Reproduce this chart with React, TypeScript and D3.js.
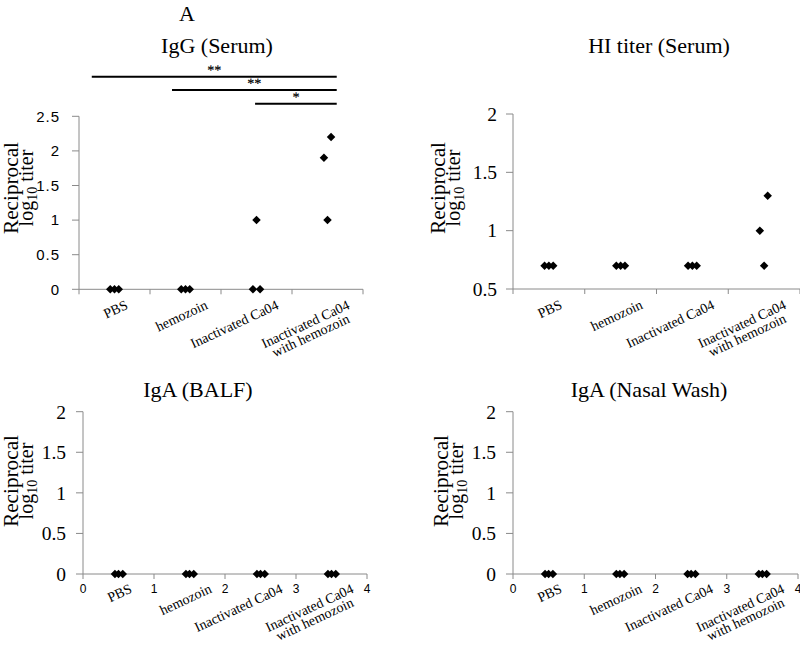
import React, { useMemo } from "react";
import * as d3 from "d3";

// ---------- data ----------
const CATEGORIES: string[][] = [
  ["PBS"],
  ["hemozoin"],
  ["Inactivated Ca04"],
  ["Inactivated Ca04", "with hemozoin"],
];
const X_NUM_TICKS = [0, 1, 2, 3, 4];

// IgG (Serum)
const IGG_X = [0.44, 0.5, 0.56, 1.44, 1.5, 1.56, 2.45, 2.5, 2.55, 3.45, 3.5, 3.55];
const IGG_Y = [0, 0, 0, 0, 0, 0, 0, 1.0, 0, 1.9, 1.0, 2.2];
const IGG_TICKS = [0, 0.5, 1, 1.5, 2, 2.5];

// HI titer (Serum)
const HI_X = [0.44, 0.5, 0.56, 1.44, 1.5, 1.56, 2.44, 2.5, 2.56, 3.44, 3.5, 3.55];
const HI_Y = [0.7, 0.7, 0.7, 0.7, 0.7, 0.7, 0.7, 0.7, 0.7, 1.0, 0.7, 1.3];
const HI_TICKS = [0.5, 1, 1.5, 2];

// IgA (BALF)
const BALF_X = [0.45, 0.5, 0.56, 1.45, 1.5, 1.56, 2.45, 2.5, 2.56, 3.45, 3.5, 3.56];
const BALF_Y = [0, 0, 0, 0, 0, 0, 0, 0, 0, 0, 0, 0];

// IgA (Nasal Wash)
const NASAL_X = [0.45, 0.5, 0.56, 1.45, 1.5, 1.56, 2.45, 2.5, 2.56, 3.45, 3.5, 3.56];
const NASAL_Y = [0, 0, 0, 0, 0, 0, 0, 0, 0, 0, 0, 0];
const IGA_TICKS = [0, 0.5, 1, 1.5, 2];

// significance brackets (IgG panel)
const SIG_START = [0.18, 1.31, 2.48];
const SIG_END = [3.63, 3.63, 3.63];
const SIG_LEVEL = [3.07, 2.88, 2.68];
const SIG_LABEL = ["**", "**", "*"];

// ---------- styles ----------
const SERIF = "'Liberation Serif', 'Times New Roman', serif";
const SANS = "'Liberation Sans', Arial, sans-serif";
const AXIS = "#8a8a8a";
const ANGLE = 25;
const CAT_FS = 14;

type Panel = {
  title: string;
  titleX: number;
  titleY: number;
  x0: number;
  x1: number;
  yDom: [number, number];
  yR: [number, number];
  ticks: number[];
  tickSans: boolean;
  tickGap: number;
  xs: number[];
  ys: number[];
  numeric: boolean;
  labelX: [number, number];
  labelCY: number;
  catDy: number;
};

const PANELS: Panel[] = [
  { title: "IgG (Serum)", titleX: 217, titleY: 53, x0: 79, x1: 363, yDom: [0, 2.5], yR: [289.3, 116.3], ticks: IGG_TICKS, tickSans: true, tickGap: 19, xs: IGG_X, ys: IGG_Y, numeric: false, labelX: [18, 33], labelCY: 188, catDy: 19 },
  { title: "HI titer (Serum)", titleX: 659, titleY: 53, x0: 513, x1: 800, yDom: [0.5, 2], yR: [289, 114], ticks: HI_TICKS, tickSans: false, tickGap: 16, xs: HI_X, ys: HI_Y, numeric: false, labelX: [445, 460], labelCY: 188, catDy: 19 },
  { title: "IgA (BALF)", titleX: 198, titleY: 397, x0: 83, x1: 367, yDom: [0, 2], yR: [574, 411.7], ticks: IGA_TICKS, tickSans: false, tickGap: 17, xs: BALF_X, ys: BALF_Y, numeric: true, labelX: [18, 33], labelCY: 481, catDy: 18 },
  { title: "IgA (Nasal Wash)", titleX: 649, titleY: 397, x0: 513, x1: 798, yDom: [0, 2], yR: [574, 411.7], ticks: IGA_TICKS, tickSans: false, tickGap: 17, xs: NASAL_X, ys: NASAL_Y, numeric: true, labelX: [448, 463], labelCY: 481, catDy: 18 },
];

function useMeasure() {
  return useMemo(() => {
    const c = typeof document !== "undefined" ? document.createElement("canvas") : null;
    const ctx = c ? c.getContext("2d") : null;
    return (s: string, font: string) => {
      if (!ctx) return s.length * 6;
      ctx.font = font;
      return ctx.measureText(s).width;
    };
  }, []);
}

const diamond = d3.symbol().type(d3.symbolSquare).size(36)() as string;

function PanelView({ p, measure }: { p: Panel; measure: (s: string, f: string) => number }) {
  const x = d3.scaleLinear().domain([0, 4]).range([p.x0, p.x1]);
  const y = d3.scaleLinear().domain(p.yDom).range(p.yR);
  const axisY = y(p.yDom[0]);
  const rad = (ANGLE * Math.PI) / 180;
  const cos = Math.cos(rad);
  const sin = Math.sin(rad);
  return (
    <g>
      <text x={p.titleX} y={p.titleY} textAnchor="middle" fontFamily={SERIF} fontSize={22} fill="#000">
        {p.title}
      </text>
      {/* y axis */}
      <line x1={p.x0} x2={p.x0} y1={y(p.yDom[1])} y2={axisY} stroke={AXIS} strokeWidth={1} />
      {p.ticks.map((t) => (
        <g key={"yt" + t}>
          <line x1={p.x0 - 7} x2={p.x0} y1={y(t)} y2={y(t)} stroke={AXIS} strokeWidth={1} />
          <text
            x={p.x0 - p.tickGap}
            y={y(t)}
            dy="0.35em"
            textAnchor="end"
            fontFamily={p.tickSans ? SANS : SERIF}
            fontSize={p.tickSans ? 15 : 19.5}
            letterSpacing={p.tickSans ? 1 : 0}
            fill="#000"
          >
            {t}
          </text>
        </g>
      ))}
      {/* x axis */}
      <line x1={p.x0} x2={p.x1} y1={axisY} y2={axisY} stroke={AXIS} strokeWidth={1} />
      {X_NUM_TICKS.map((t) => (
        <g key={"xt" + t}>
          <line x1={x(t)} x2={x(t)} y1={axisY} y2={axisY + 5} stroke={AXIS} strokeWidth={1} />
          {p.numeric && (
            <text x={x(t)} y={axisY + 19} textAnchor="middle" fontFamily={SANS} fontSize={12} fill="#000">
              {t}
            </text>
          )}
        </g>
      ))}
      {/* category labels */}
      {CATEGORIES.map((lines, i) => {
        const cx = x(i + 0.5);
        const L = measure(lines[0], `${CAT_FS}px ${SERIF}`);
        const w = L * cos + CAT_FS * sin;
        const endX = cx + Math.min(w / 2, 23);
        const endY = axisY + p.catDy;
        const mx = endX - (L / 2) * cos;
        const my = endY + (L / 2) * sin;
        return (
          <g key={"cat" + i} transform={`translate(${mx},${my}) rotate(${-ANGLE})`}>
            {lines.map((ln, j) => (
              <text key={j} x={0} y={j * 12.5} textAnchor="middle" fontFamily={SERIF} fontSize={CAT_FS} fill="#000">
                {ln}
              </text>
            ))}
          </g>
        );
      })}
      {/* y axis title */}
      <g transform={`translate(${p.labelX[0]},${p.labelCY}) rotate(-90)`}>
        <text x={0} y={0} textAnchor="middle" fontFamily={SERIF} fontSize={20} textLength={92} lengthAdjust="spacingAndGlyphs" fill="#000">
          Reciprocal
        </text>
      </g>
      <g transform={`translate(${p.labelX[1]},${p.labelCY}) rotate(-90)`}>
        <text x={0} y={0} textAnchor="middle" fontFamily={SERIF} fontSize={20} fill="#000">
          <tspan>log</tspan>
          <tspan dy={4} fontSize={14}>10</tspan>
          <tspan dy={-4}> titer</tspan>
        </text>
      </g>
      {/* points */}
      {p.xs.map((xv, i) => (
        <path
          key={"pt" + i}
          d={diamond}
          transform={`translate(${x(xv)},${y(p.ys[i])}) rotate(45)`}
          fill="#000"
        />
      ))}
    </g>
  );
}

export default function App() {
  const measure = useMeasure();
  const p0 = PANELS[0];
  const x0 = d3.scaleLinear().domain([0, 4]).range([p0.x0, p0.x1]);
  const y0 = d3.scaleLinear().domain(p0.yDom).range(p0.yR);
  return (
    <svg
      width={800}
      height={653}
      viewBox="0 0 800 653"
      style={{ position: "absolute", left: 0, top: 0, background: "#fff" }}
    >
      <rect x={0} y={0} width={800} height={653} fill="#fff" />
      <text x={187} y={21} textAnchor="middle" fontFamily={SERIF} fontSize={22} fill="#000">
        A
      </text>
      {PANELS.map((p, i) => (
        <PanelView key={i} p={p} measure={measure} />
      ))}
      {SIG_START.map((s, i) => {
        const mx = (x0(s) + x0(SIG_END[i])) / 2;
        const ly = y0(SIG_LEVEL[i]);
        return (
          <g key={"sig" + i}>
            <line x1={x0(s)} x2={x0(SIG_END[i])} y1={ly} y2={ly} stroke="#000" strokeWidth={2} />
            <g transform={`translate(${mx},${ly - 2}) rotate(0.5)`}>
              <text x={0} y={0} textAnchor="middle" fontFamily={SERIF} fontSize={14} fill="#000" stroke="#000" strokeWidth={0.2}>
                {SIG_LABEL[i]}
              </text>
            </g>
          </g>
        );
      })}
    </svg>
  );
}
